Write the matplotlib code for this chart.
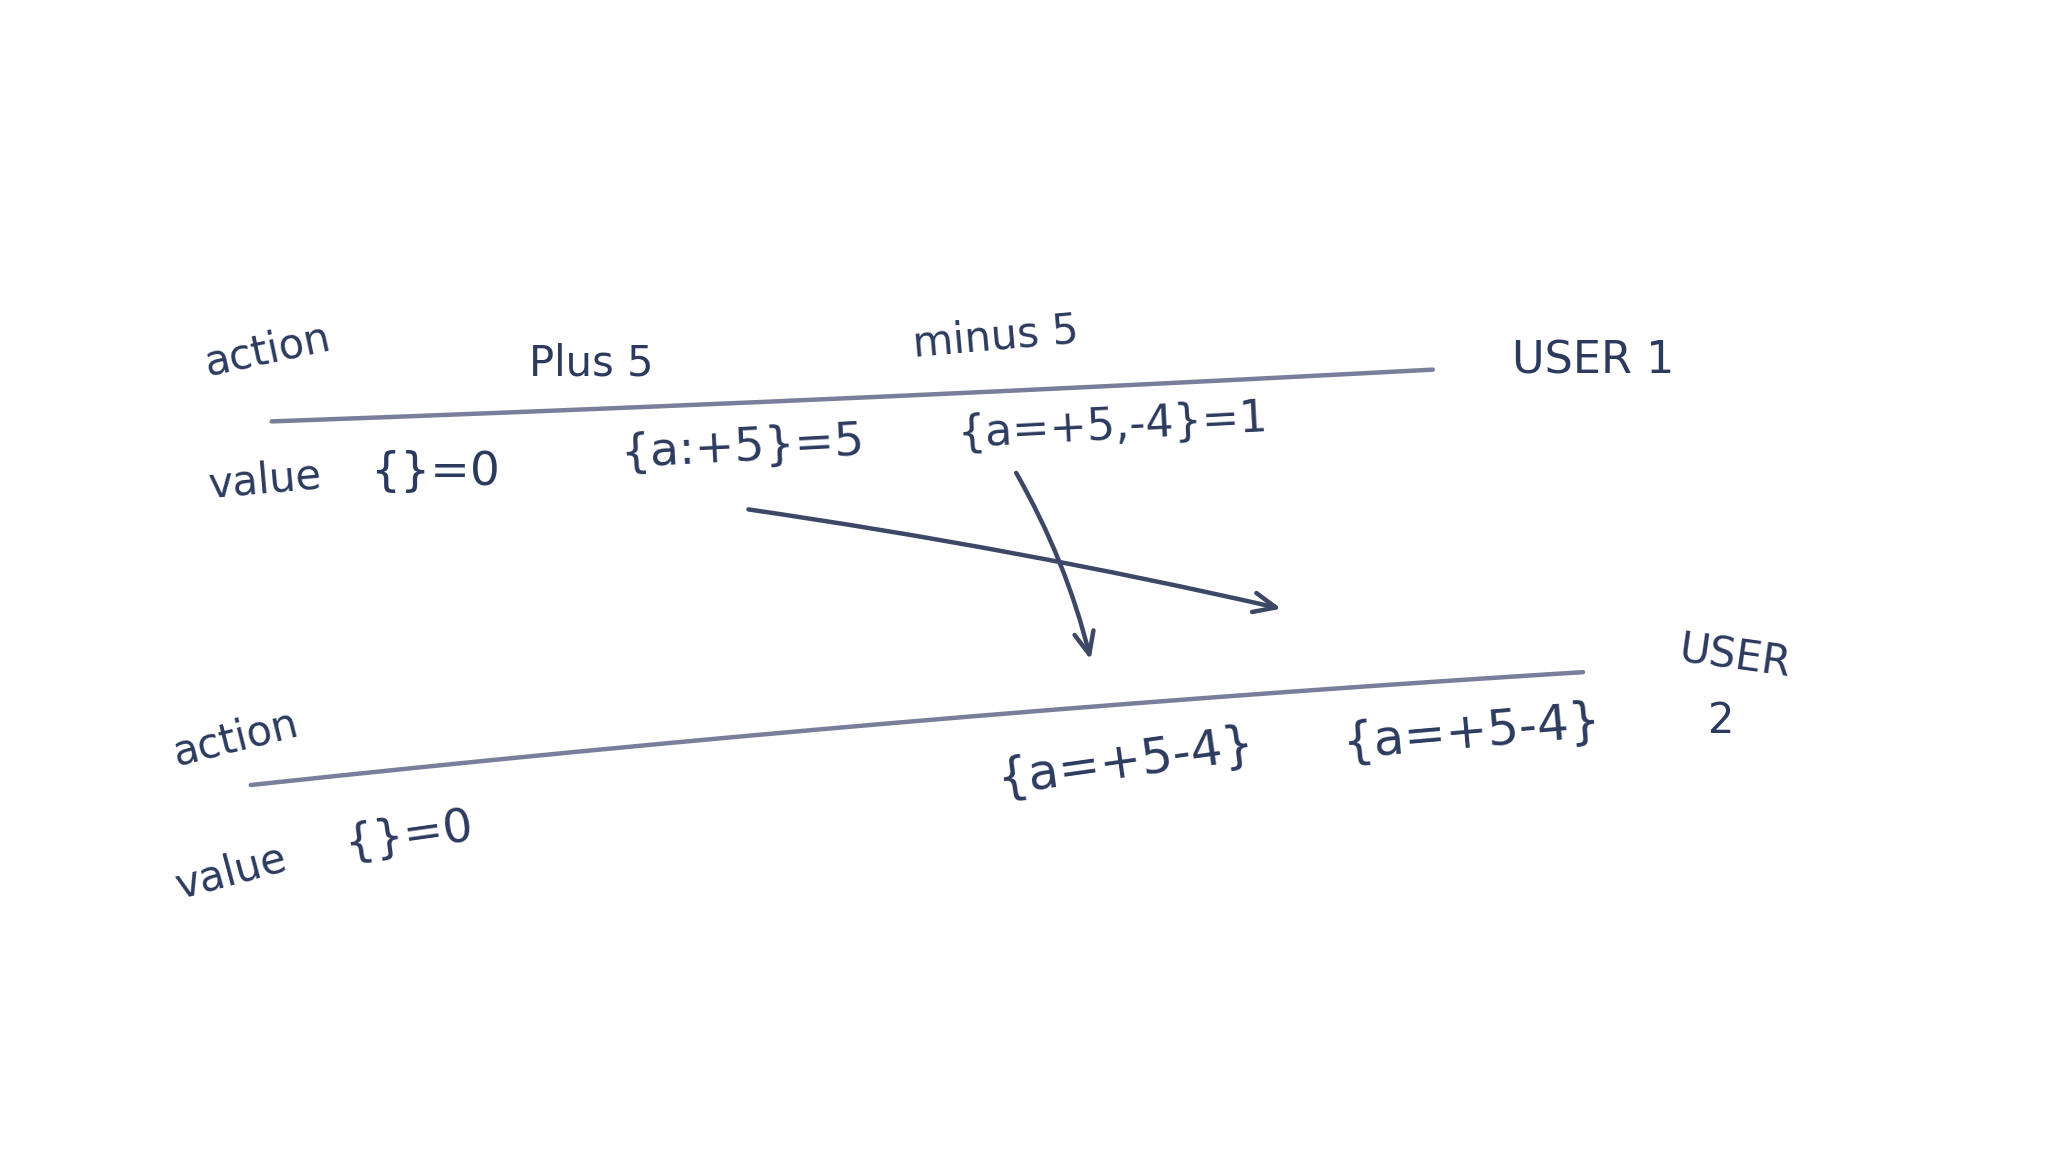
import numpy as np
import matplotlib
matplotlib.use("Agg")
import matplotlib.pyplot as plt

plt.rcParams['font.family'] = ['DejaVu Sans']

INK = '#2c3a5e'
LINE = '#62678a'

# Text labels of the sketch
labels = ["action", "Plus 5", "minus 5", "USER 1",
          "value", "{}=0", "{a:+5}=5", "{a=+5,-4}=1",
          "action", "value", "{}=0", "{a=+5-4}", "{a=+5-4}", "USER", "2"]
label_x = [205, 453, 762, 1220, 203, 333, 568, 852, 180, 177, 313, 862, 1127, 1328, 1318]
label_y = [268, 278, 258, 276, 368, 362, 343, 326, 565, 668, 640, 583, 560, 503, 552]
label_rot = [12, 0, 5, 0, 5, 0, 3, 3, 14, 15, 8, 8, 5, -8, 0]
label_size = [30, 30, 30, 32, 30, 34, 34, 32, 30, 30, 34, 36, 36, 30, 30]

# Timeline strokes (control points of the hand-drawn lines)
top_line_x = [208, 400, 600, 900, 1097]
top_line_y = [322, 316, 308, 291, 284]
bottom_line_x = [192, 400, 700, 1000, 1212]
bottom_line_y = [600, 581, 553, 526, 516]

# Arrows: start and end points
arrow_start = [(573, 390), (778, 362)]
arrow_end = [(981, 466), (835, 505)]
arrow_rad = [-0.02, -0.07]

fig = plt.figure(figsize=(20.48, 11.56), dpi=100)
ax = fig.add_axes([0, 0, 1, 1])
ax.set_xlim(0, 1568)
ax.set_ylim(885, 0)
ax.axis('off')

for xs, ys in [(top_line_x, top_line_y), (bottom_line_x, bottom_line_y)]:
    c = np.polyfit(xs, ys, 2)
    xx = np.linspace(xs[0], xs[-1], 200)
    ax.plot(xx, np.polyval(c, xx), color=LINE, lw=3.2, alpha=0.85,
            solid_capstyle='round')

for s, e, r in zip(arrow_start, arrow_end, arrow_rad):
    ax.annotate('', xy=e, xytext=s,
                arrowprops=dict(arrowstyle='->,head_length=1.6,head_width=0.7',
                                color='#3d4866', lw=3.2,
                                connectionstyle=f'arc3,rad={r}',
                                shrinkA=0, shrinkB=0))

for t, x, y, r, s in zip(labels, label_x, label_y, label_rot, label_size):
    ax.text(x, y, t, ha='center', va='center', rotation=r, fontsize=s,
            color=INK, rotation_mode='anchor')

fig.savefig('out.png', dpi=100, facecolor='white')
